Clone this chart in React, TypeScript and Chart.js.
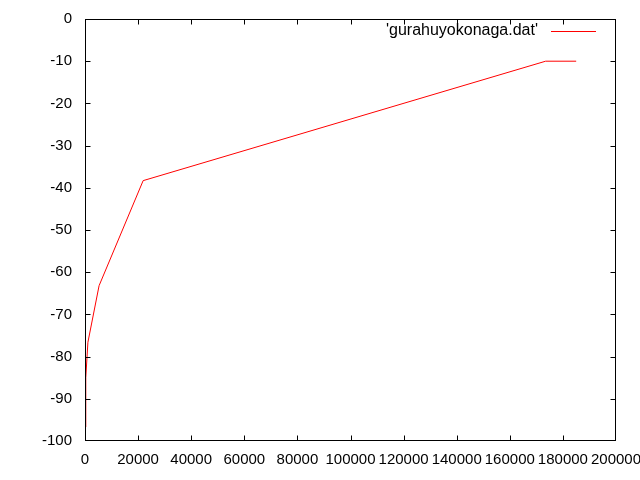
import React, { useEffect, useRef } from "react";
import { Chart, registerables } from "chart.js";

Chart.register(...registerables);

const seriesLabel = "'gurahuyokonaga.dat'";
const xValues = [200, 300, 750, 1100, 5300, 21900, 173500, 185000];
const yValues = [-96.7, -85, -80.2, -76.6, -63.2, -38.3, -10, -10];
const xTicks = [0, 20000, 40000, 60000, 80000, 100000, 120000, 140000, 160000, 180000, 200000];
const yTicks = [-100, -90, -80, -70, -60, -50, -40, -30, -20, -10, 0];

const FONT = "Liberation Sans, Arial, sans-serif";

const framePlugin = {
  id: "frame",
  afterDraw(chart: any) {
    const { ctx, chartArea } = chart;
    const { left, right, top, bottom } = chartArea;
    const xs = chart.scales.x;
    const ys = chart.scales.y;
    ctx.save();
    ctx.strokeStyle = "#000";
    ctx.lineWidth = 1;
    const L = Math.round(left) + 0.5;
    const R = Math.round(right) - 0.5;
    const T = Math.round(top) + 0.5;
    const B = Math.round(bottom) - 0.5;
    ctx.strokeRect(L, T, R - L, B - T);
    const tl = 5;
    ctx.beginPath();
    for (const v of xTicks) {
      const px = Math.min(Math.round(xs.getPixelForValue(v)) + 0.5, R);
      ctx.moveTo(px, B);
      ctx.lineTo(px, B - tl);
      ctx.moveTo(px, T);
      ctx.lineTo(px, T + tl);
    }
    for (const v of yTicks) {
      const py = Math.min(Math.round(ys.getPixelForValue(v)) + 0.5, B);
      ctx.moveTo(L, py);
      ctx.lineTo(L + tl, py);
      ctx.moveTo(R, py);
      ctx.lineTo(R - tl, py);
    }
    ctx.stroke();
    // legend
    ctx.fillStyle = "#000";
    ctx.font = "16px " + FONT;
    ctx.textAlign = "right";
    ctx.textBaseline = "middle";
    ctx.fillText(seriesLabel, 538, 31);
    ctx.strokeStyle = "#ff0000";
    ctx.beginPath();
    ctx.moveTo(551, 31.5);
    ctx.lineTo(596, 31.5);
    ctx.stroke();
    ctx.restore();
  },
};

export default function App() {
  const ref = useRef<HTMLCanvasElement | null>(null);
  useEffect(() => {
    document.body.style.margin = "0";
    const canvas = ref.current!;
    const chart = new Chart(canvas, {
      type: "line",
      data: {
        datasets: [
          {
            label: seriesLabel,
            data: xValues.map((x, i) => ({ x, y: yValues[i] })),
            borderColor: "#ff0000",
            borderWidth: 1,
            pointRadius: 0,
            fill: false,
            tension: 0,
          },
        ],
      },
      options: {
        animation: false,
        responsive: false,
        devicePixelRatio: 1,
        layout: { padding: { left: 0, right: 24, top: 19, bottom: 0 } },
        plugins: { legend: { display: false }, tooltip: { enabled: false } },
        scales: {
          x: {
            type: "linear",
            min: 0,
            max: 200000,
            grid: { display: false, drawTicks: false },
            border: { display: false },
            afterBuildTicks: (s: any) => {
              s.ticks = xTicks.map((v) => ({ value: v }));
            },
            afterFit: (s: any) => {
              s.height = 39;
              s.paddingLeft = 0;
              s.paddingRight = 0;
            },
            ticks: {
              autoSkip: false,
              maxRotation: 0,
              minRotation: 0,
              padding: 10,
              color: "#000",
              font: { family: FONT, size: 15 },
              callback: (v: any) => String(v),
            },
          },
          y: {
            type: "linear",
            min: -100,
            max: 0,
            grid: { display: false, drawTicks: false },
            border: { display: false },
            afterBuildTicks: (s: any) => {
              s.ticks = yTicks.map((v) => ({ value: v }));
            },
            afterFit: (s: any) => {
              s.width = 85;
              s.paddingTop = 0;
              s.paddingBottom = 0;
            },
            ticks: {
              autoSkip: false,
              padding: 13,
              color: "#000",
              font: { family: FONT, size: 15 },
              callback: (v: any) => String(v),
            },
          },
        },
      },
      plugins: [framePlugin],
    } as any);
    return () => chart.destroy();
  }, []);
  return (
    <div style={{ position: "absolute", left: 0, top: 0, width: 640, height: 480, background: "#fff" }}>
      <canvas ref={ref} width={640} height={480} style={{ display: "block" }} />
    </div>
  );
}
